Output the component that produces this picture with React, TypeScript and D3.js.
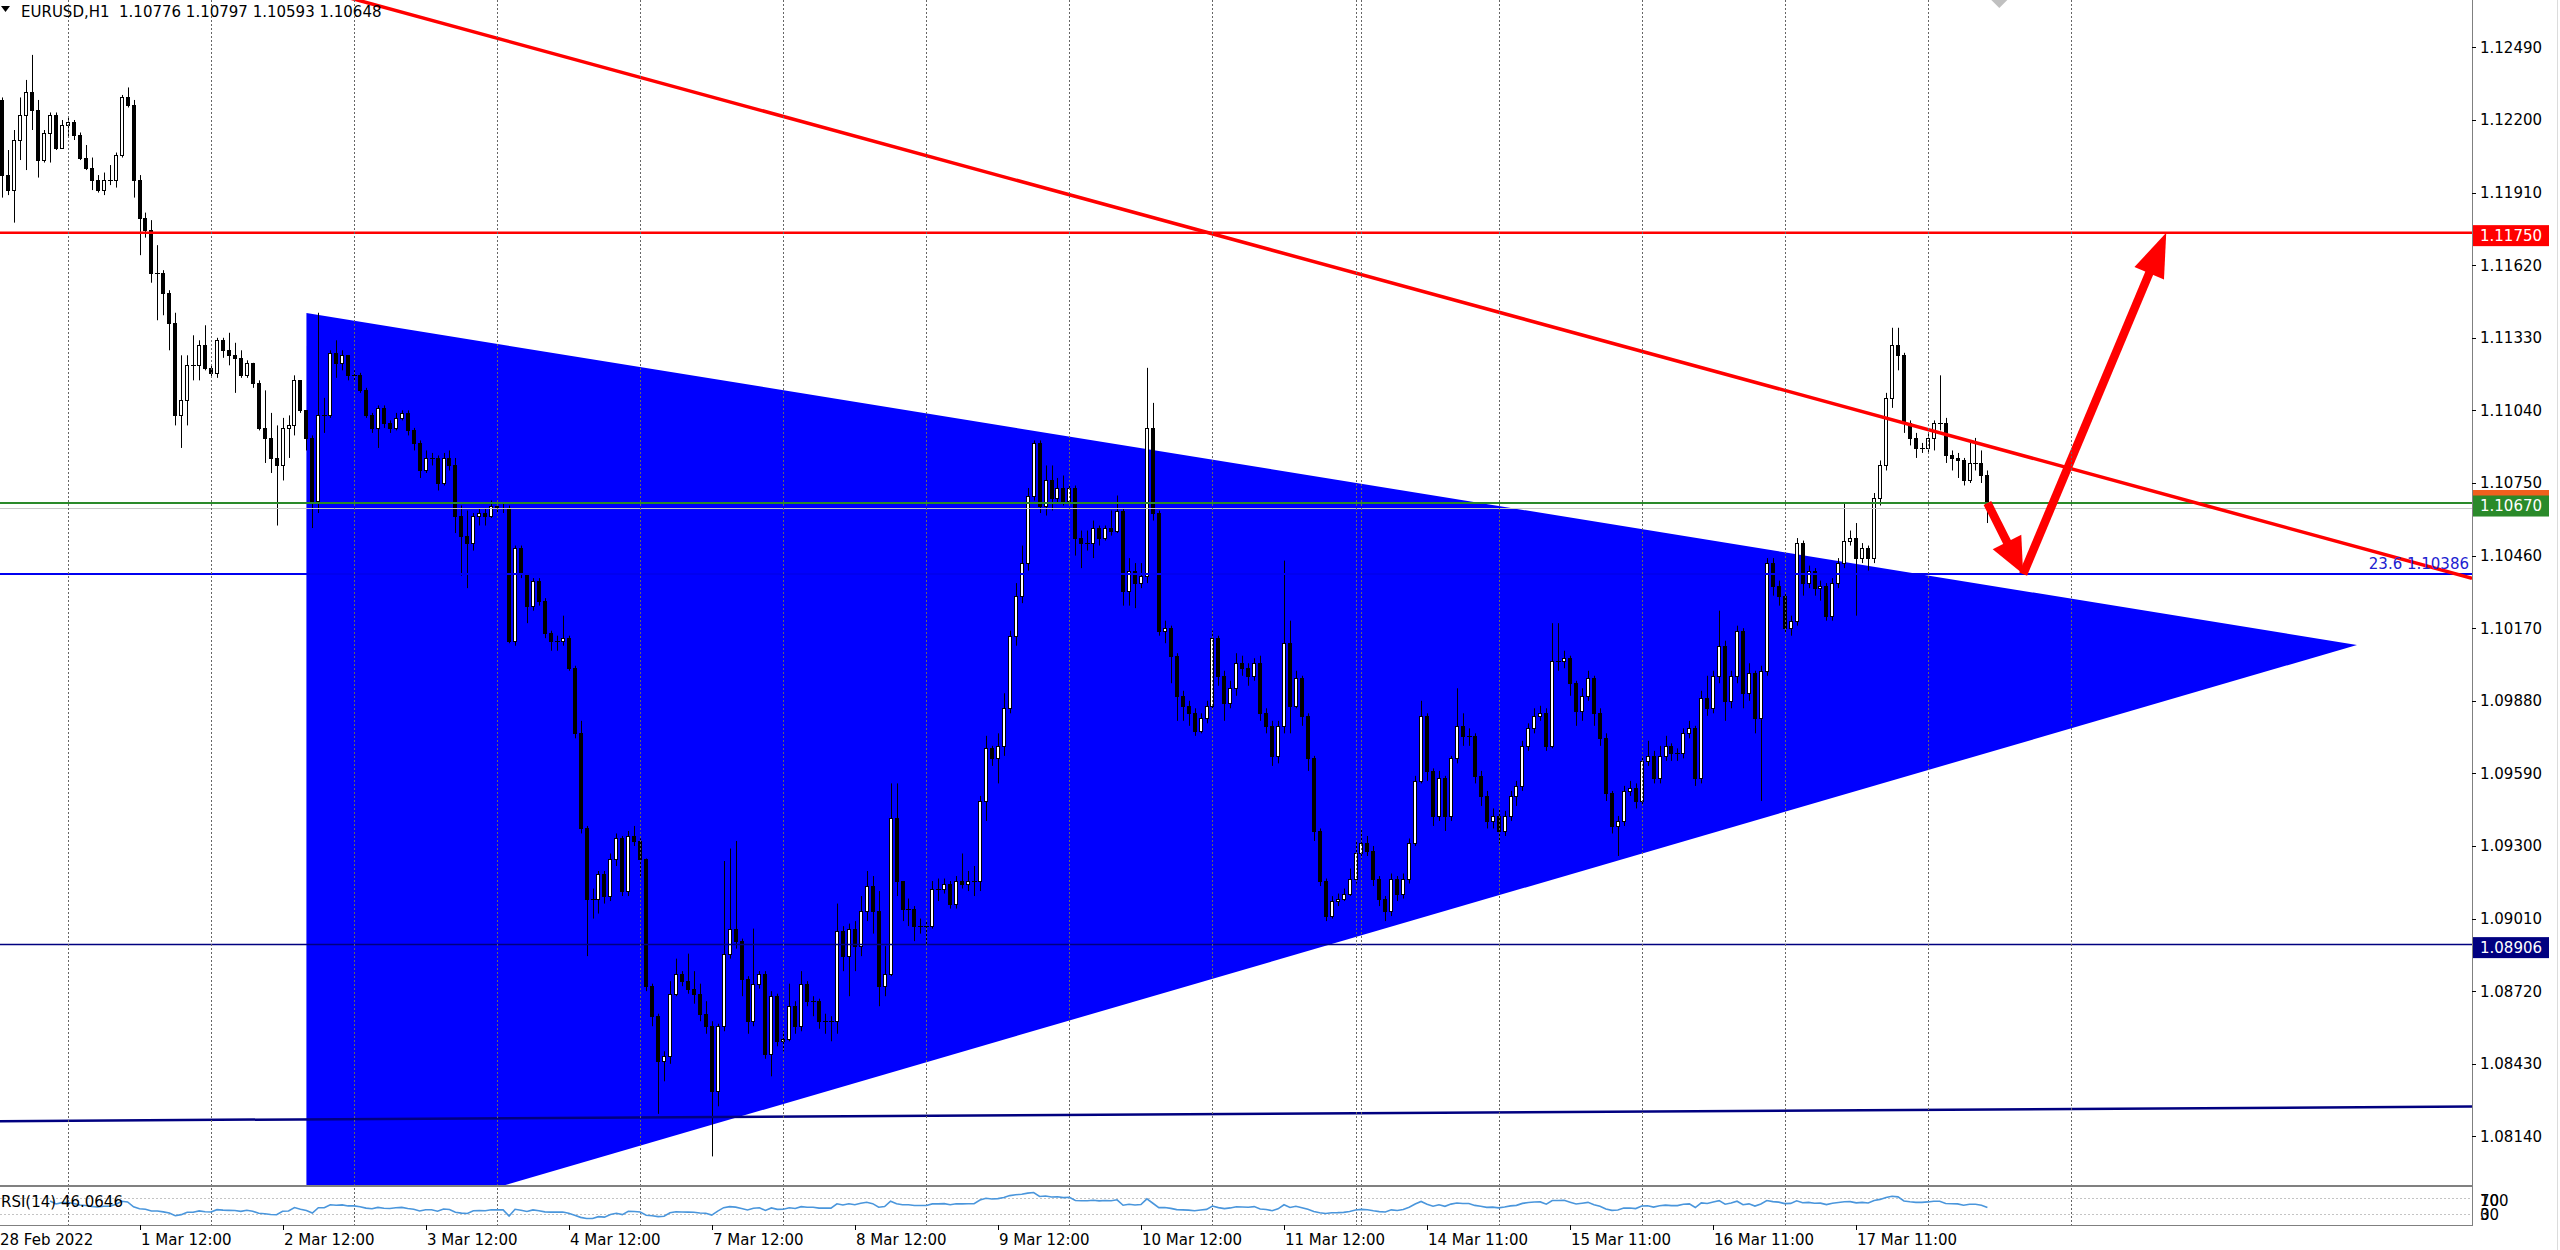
import React, { useEffect, useRef } from 'react'
import * as d3 from 'd3'

// EURUSD H1 bars, prices in 1/10000 (11198 = 1.1198). open = previous close
const firstOpen = 11228
const closes = [
  11198, 11192, 11212, 11222, 11231, 11224, 11204, 11215, 11222, 11209,
  11218, 11219, 11214, 11205, 11201, 11196, 11192, 11196, 11196, 11206,
  11229, 11226, 11196, 11181, 11176, 11159, 11159, 11151, 11139, 11102,
  11108, 11122, 11122, 11130, 11121, 11119, 11132, 11128, 11126, 11125,
  11118, 11123, 11115, 11097, 11093, 11085, 11082, 11097, 11098, 11116,
  11104, 11093, 11068, 11102, 11102, 11127, 11123, 11126, 11118, 11118,
  11112, 11102, 11097, 11105, 11099, 11097, 11101, 11103, 11096, 11091,
  11080, 11085, 11085, 11075, 11085, 11082, 11062, 11054, 11051, 11062,
  11063, 11062, 11066, 11065, 11065, 11012, 11049, 11039, 11026, 11036,
  11028, 11015, 11012, 11012, 11013, 11001, 10975, 10937, 10909, 10909,
  10919, 10910, 10925, 10933, 10912, 10934, 10932, 10925, 10874, 10862,
  10844, 10846, 10871, 10879, 10876, 10873, 10871, 10863, 10858, 10832,
  10858, 10887, 10897, 10892, 10877, 10860, 10875, 10879, 10847, 10870,
  10852, 10853, 10866, 10858, 10875, 10868, 10868, 10860, 10860, 10860,
  10896, 10886, 10897, 10890, 10904, 10914, 10904, 10874, 10879, 10941,
  10916, 10905, 10905, 10898, 10898, 10898, 10913, 10913, 10915, 10907,
  10916, 10915, 10916, 10916, 10948, 10969, 10965, 10970, 10985, 11014,
  11030, 11043, 11070, 11091, 11066, 11076, 11069, 11073, 11068, 11073,
  11053, 11051, 11051, 11057, 11053, 11057, 11056, 11064, 11032, 11040,
  11035, 11038, 11097, 11063, 11016, 11017, 11006, 10990, 10986, 10983,
  10976, 10981, 10986, 11013, 10998, 10987, 10993, 11003, 11001, 10998,
  11003, 10983, 10978, 10966, 10978, 11011, 10986, 10997, 10982, 10965,
  10936, 10916, 10902, 10908, 10909, 10911, 10917, 10927, 10931, 10928,
  10917, 10909, 10904, 10917, 10911, 10917, 10931, 10956, 10982, 10960,
  10942, 10957, 10942, 10965, 10978, 10974, 10974, 10958, 10950, 10940,
  10942, 10936, 10942, 10950, 10954, 10970, 10977, 10982, 10983, 10970,
  11004, 11004, 11005, 10995, 10984, 10990, 10997, 10983, 10973, 10951,
  10938, 10940, 10952, 10953, 10948, 10964, 10966, 10957, 10966, 10970,
  10967, 10967, 10975, 10977, 10957, 10989, 10985, 10998, 11010, 10988,
  10998, 11016, 10991, 10999, 10981, 11000, 11043, 11034, 11030, 11017,
  11020, 11051, 11035, 11040, 11033, 11034, 11022, 11035, 11043, 11052,
  11053, 11045, 11049, 11045, 11069, 11082, 11109, 11130, 11126, 11099,
  11093, 11089, 11089, 11093, 11099, 11099, 11086, 11085, 11084, 11076,
  11083, 11083, 11078, 11065,
]
const highs = [
  11229, 11208, 11216, 11229, 11236, 11246, 11228, 11216, 11223, 11223,
  11220, 11221, 11220, 11215, 11210, 11205, 11198, 11199, 11202, 11207,
  11230, 11233, 11228, 11198, 11183, 11180, 11170, 11160, 11152, 11143,
  11126, 11126, 11134, 11132, 11138, 11122, 11133, 11133, 11135, 11131,
  11128, 11124, 11123, 11116, 11112, 11103, 11098, 11101, 11102, 11118,
  11116, 11104, 11094, 11143, 11109, 11128, 11132, 11128, 11126, 11120,
  11119, 11113, 11103, 11106, 11106, 11100, 11103, 11104, 11104, 11097,
  11092, 11088, 11087, 11086, 11087, 11088, 11085, 11066, 11064, 11063,
  11065, 11065, 11068, 11067, 11067, 11066, 11050, 11050, 11039, 11037,
  11037, 11029, 11016, 11014, 11022, 11014, 11002, 10980, 10938, 10913,
  10920, 10920, 10927, 10935, 10934, 10936, 10938, 10933, 10920, 10875,
  10863, 10848, 10876, 10885, 10880, 10887, 10880, 10875, 10868, 10860,
  10859, 10924, 10929, 10932, 10893, 10878, 10897, 10880, 10880, 10872,
  10871, 10856, 10875, 10868, 10880, 10876, 10870, 10869, 10863, 10862,
  10907, 10898, 10899, 10900, 10910, 10920, 10918, 10912, 10890, 10955,
  10955, 10916, 10909, 10906, 10901, 10900, 10916, 10917, 10917, 10916,
  10918, 10927, 10920, 10922, 10950, 10974, 10970, 10975, 10991, 11016,
  11035, 11050, 11073, 11092, 11092, 11082, 11082, 11077, 11078, 11074,
  11074, 11056, 11056, 11060, 11058, 11058, 11064, 11070, 11065, 11045,
  11043, 11043, 11121, 11107, 11064, 11020, 11018, 11007, 10992, 10988,
  10985, 10983, 10988, 11016, 11014, 11000, 10996, 11007, 11006, 11003,
  11005, 11006, 10985, 10980, 10980, 11044, 11020, 11000, 10998, 10983,
  10966, 10937, 10917, 10910, 10911, 10913, 10921, 10932, 10937, 10934,
  10930, 10918, 10910, 10919, 10918, 10919, 10933, 10958, 10988, 10983,
  10961, 10960, 10958, 10966, 10993, 10983, 10977, 10975, 10960, 10952,
  10945, 10945, 10944, 10952, 10956, 10972, 10979, 10985, 10986, 10985,
  11019, 11019, 11008, 11006, 10996, 10993, 11000, 10998, 10985, 10975,
  10952, 10942, 10954, 10956, 10955, 10966, 10972, 10968, 10970, 10974,
  10971, 10969, 10977, 10980, 10978, 10992, 10998, 11000, 11024, 11012,
  11000, 11018, 11017, 11003, 11000, 11002, 11045, 11045, 11036, 11031,
  11022, 11053, 11052, 11042, 11041, 11036, 11035, 11037, 11045, 11067,
  11056, 11059, 11051, 11050, 11071, 11084, 11111, 11137, 11137, 11127,
  11100, 11095, 11091, 11095, 11100, 11118, 11101, 11088, 11087, 11085,
  11092, 11093, 11088, 11080,
]
const lows = [
  11189, 11190, 11179, 11204, 11200, 11216, 11197, 11203, 11203, 11208,
  11209, 11213, 11212, 11204, 11200, 11192, 11191, 11190, 11194, 11193,
  11205, 11225, 11189, 11166, 11173, 11155, 11140, 11142, 11128, 11098,
  11089, 11098, 11116, 11116, 11120, 11117, 11117, 11125, 11122, 11111,
  11117, 11117, 11113, 11096, 11083, 11079, 11058, 11076, 11085, 11094,
  11103, 11088, 11057, 11063, 11095, 11101, 11117, 11120, 11116, 11116,
  11111, 11101, 11095, 11089, 11097, 11095, 11096, 11100, 11094, 11088,
  11077, 11079, 11082, 11072, 11074, 11080, 11055, 11038, 11033, 11048,
  11058, 11058, 11061, 11063, 11063, 11011, 11010, 11037, 11019, 11024,
  11026, 11013, 11008, 11008, 11010, 11000, 10973, 10935, 10886, 10901,
  10903, 10907, 10908, 10922, 10910, 10910, 10930, 10918, 10872, 10858,
  10823, 10836, 10843, 10870, 10874, 10871, 10867, 10860, 10855, 10806,
  10826, 10856, 10885, 10889, 10870, 10855, 10858, 10873, 10845, 10838,
  10850, 10848, 10852, 10855, 10856, 10866, 10862, 10857, 10855, 10852,
  10855, 10880, 10870, 10880, 10886, 10900, 10895, 10866, 10870, 10878,
  10910, 10900, 10898, 10892, 10895, 10890, 10897, 10908, 10911, 10905,
  10905, 10913, 10912, 10910, 10912, 10940, 10962, 10955, 10966, 10983,
  11010, 11027, 11040, 11068, 11063, 11062, 11064, 11067, 11066, 11067,
  11046, 11041, 11048, 11045, 11050, 11052, 11054, 11055, 11026, 11026,
  11025, 11033, 11035, 11060, 11014, 11011, 10995, 10980, 10980, 10978,
  10974, 10975, 10979, 10985, 10994, 10980, 10985, 10990, 10998, 10994,
  10996, 10980, 10975, 10962, 10963, 10975, 10975, 10985, 10978, 10960,
  10932, 10914, 10900, 10901, 10906, 10908, 10910, 10915, 10925, 10926,
  10914, 10906, 10900, 10902, 10908, 10909, 10915, 10930, 10955, 10956,
  10938, 10940, 10936, 10940, 10963, 10970, 10970, 10955, 10946, 10937,
  10937, 10931, 10934, 10940, 10946, 10952, 10968, 10975, 10980, 10968,
  10969, 11000, 11001, 10990, 10978, 10980, 10988, 10978, 10970, 10948,
  10935, 10926, 10938, 10950, 10945, 10946, 10962, 10955, 10955, 10964,
  10964, 10964, 10965, 10973, 10954, 10955, 10982, 10983, 10995, 10980,
  10985, 10995, 10985, 10988, 10975, 10948, 10998, 11030, 11026, 11015,
  11014, 11018, 11030, 11033, 11030, 11028, 11020, 11020, 11033, 11041,
  11050, 11022, 11043, 11040, 11043, 11066, 11080, 11105, 11120, 11095,
  11090, 11085, 11087, 11087, 11088, 11096, 11083, 11080, 11077, 11074,
  11075, 11080, 11075, 11059,
]

const priceTicks = [
  1.1249, 1.122, 1.1191, 1.1162, 1.1133, 1.1104, 1.1075, 1.1046,
  1.1017, 1.0988, 1.0959, 1.093, 1.0901, 1.0872, 1.0843, 1.0814,
]
const timeLabels = [
  '28 Feb 2022', '1 Mar 12:00', '2 Mar 12:00', '3 Mar 12:00', '4 Mar 12:00',
  '7 Mar 12:00', '8 Mar 12:00', '9 Mar 12:00', '10 Mar 12:00', '11 Mar 12:00',
  '14 Mar 11:00', '15 Mar 11:00', '16 Mar 11:00', '17 Mar 11:00',
]
const timeLabelBars = [0, 23, 47, 71, 95, 119, 143, 167, 191, 215, 239, 263, 287, 311]
const gridBars = [11, 35, 59, 83, 107, 131, 155, 179, 203, 227, 228, 251, 275, 299, 323, 347]

const symbolTitle = 'EURUSD,H1'
const lastBarOHLC = ['1.10776', '1.10797', '1.10593', '1.10648']
const rsiTitle = 'RSI(14) 46.0646'
const rsiLevels = [70, 30]
const rsiScaleTop = ['100', '70']
const rsiScaleBottom = ['30', '0']

// chart objects
const resistance = 1.1175
const support = 1.1067
const bidPrice = 1.10648
const askPrice = 1.10692
const fiboLevel = 1.10386
const fiboText = '23.6 1.10386'
const lowLevel = 1.08906
const triangleBars = [51, 395, 51]
const trianglePrices = [1.11429, 1.10103, 1.07714]
const downTrendBars = [0, 414]
const downTrendPrices = [1.13067, 1.10371]
const floorTrendBars = [0, 414]
const floorTrendPrices = [1.08201, 1.08259]
const arrowBars = [333, 339, 363]
const arrowPrices = [1.1067, 1.10386, 1.1175]
const markBar = 335
const markPrice = 1.12679

const FONT = "'DejaVu Sans', Verdana, sans-serif"

export default function App() {
  const ref = useRef<SVGSVGElement>(null)

  useEffect(() => {
    const W = 2560, H = 1250
    const plotR = 2472, mainB = 1185, rsiT = 1187, rsiB = 1225
    const svg = d3.select(ref.current)
    svg.selectAll('*').remove()

    const x = d3.scaleLinear().domain([0, closes.length - 1]).range([2.4, 1987.4])
    const y = d3.scaleLinear().domain([1.079458, 1.126793]).range([mainB, 0])
    const yr = d3.scaleLinear().domain([0, 100]).range([rsiB, rsiT])

    svg.append('rect').attr('width', W).attr('height', H).attr('fill', '#fff')

    const defs = svg.append('defs')
    defs.append('clipPath').attr('id', 'plotClip')
      .append('rect').attr('width', plotR).attr('height', mainB)
    defs.append('clipPath').attr('id', 'gridClip')
      .append('rect').attr('width', plotR).attr('height', rsiB)
    defs.append('clipPath').attr('id', 'rsiClip')
      .append('rect').attr('y', rsiT).attr('width', plotR).attr('height', rsiB - rsiT)
    const triPts = triangleBars.map((b, i) => [x(b), y(trianglePrices[i])] as [number, number])
    defs.append('clipPath').attr('id', 'triClip')
      .append('polygon').attr('points', triPts.map(p => p.join(',')).join(' '))

    const plot = svg.append('g').attr('clip-path', 'url(#plotClip)')

    // triangle (background object)
    plot.append('polygon')
      .attr('points', triPts.map(p => p.join(',')).join(' '))
      .attr('fill', '#0000ff')

    // vertical grid
    const grid = svg.append('g').attr('clip-path', 'url(#gridClip)')
    grid.selectAll('line.g').data(gridBars).enter().append('line')
      .attr('x1', d => Math.round(x(d)) + 0.5).attr('x2', d => Math.round(x(d)) + 0.5)
      .attr('y1', 0).attr('y2', rsiB)
      .attr('stroke', '#666').attr('stroke-dasharray', '2,2')
    plot.append('g').attr('clip-path', 'url(#triClip)')
      .selectAll('line').data(gridBars).enter().append('line')
      .attr('x1', d => Math.round(x(d)) + 0.5).attr('x2', d => Math.round(x(d)) + 0.5)
      .attr('y1', 0).attr('y2', mainB)
      .attr('stroke', '#d6d6f0').attr('stroke-dasharray', '2,2')

    // RSI level lines
    svg.selectAll('line.lvl').data(rsiLevels).enter().append('line')
      .attr('x1', 0).attr('x2', plotR)
      .attr('y1', d => Math.round(yr(d)) + 0.5).attr('y2', d => Math.round(yr(d)) + 0.5)
      .attr('stroke', '#c4c4c4').attr('stroke-dasharray', '2,2')

    // candles
    const bars = closes.map((c, i) => {
      const o = i === 0 ? firstOpen : closes[i - 1]
      return {
        i, o: o / 1e4, c: c / 1e4,
        h: Math.max(highs[i], o, c) / 1e4,
        l: Math.min(lows[i], o, c) / 1e4,
      }
    })
    const cg = plot.append('g')
    bars.forEach(b => {
      const cx = Math.round(x(b.i))
      cg.append('line')
        .attr('x1', cx + 0.5).attr('x2', cx + 0.5)
        .attr('y1', y(b.h)).attr('y2', y(b.l))
        .attr('stroke', '#000').attr('stroke-width', 1)
      const top = Math.round(y(Math.max(b.o, b.c)))
      const bot = Math.round(y(Math.min(b.o, b.c)))
      if (bot - top < 1) {
        cg.append('line')
          .attr('x1', cx - 2).attr('x2', cx + 3)
          .attr('y1', top + 0.5).attr('y2', top + 0.5)
          .attr('stroke', '#000')
      } else {
        cg.append('rect')
          .attr('x', cx - 1.5).attr('y', top + 0.5)
          .attr('width', 3).attr('height', bot - top)
          .attr('fill', b.c > b.o ? '#fff' : '#000')
          .attr('stroke', '#000').attr('stroke-width', 1)
      }
    })

    // horizontal levels and trend lines (rays extended over the whole plot width)
    const hline = (p: number, color: string, w: number) =>
      plot.append('line').attr('x1', 0).attr('x2', plotR)
        .attr('y1', y(p)).attr('y2', y(p))
        .attr('stroke', color).attr('stroke-width', w)
    const ray = (bs: number[], ps: number[], color: string, w: number) => {
      const x0 = x(bs[0]), y0 = y(ps[0]), x1 = x(bs[1]), y1 = y(ps[1])
      const k = (y1 - y0) / (x1 - x0)
      plot.append('line')
        .attr('x1', 0).attr('y1', y0 - k * x0)
        .attr('x2', plotR).attr('y2', y0 + k * (plotR - x0))
        .attr('stroke', color).attr('stroke-width', w)
    }
    hline(fiboLevel, '#0000f0', 2)
    hline(lowLevel, '#000080', 1.5)
    ray(floorTrendBars, floorTrendPrices, '#000080', 2.5)
    hline(bidPrice, '#c8c8c8', 1)
    hline(support, '#2a8a2a', 2)
    hline(resistance, '#ff0000', 2.5)
    ray(downTrendBars, downTrendPrices, '#ff0000', 3.5)

    // arrows
    const arrow = (b0: number, p0: number, b1: number, p1: number, headLen: number, half: number) => {
      const x0 = x(b0), y0 = y(p0), x1 = x(b1), y1 = y(p1)
      const len = Math.hypot(x1 - x0, y1 - y0)
      const ux = (x1 - x0) / len, uy = (y1 - y0) / len
      const bx = x1 - ux * headLen, by = y1 - uy * headLen
      plot.append('line').attr('x1', x0).attr('y1', y0)
        .attr('x2', bx + ux * 2).attr('y2', by + uy * 2)
        .attr('stroke', '#ff0000').attr('stroke-width', 8.5)
      plot.append('polygon')
        .attr('points', [[x1, y1], [bx - uy * half, by + ux * half], [bx + uy * half, by - ux * half]]
          .map(p => p.join(',')).join(' '))
        .attr('fill', '#ff0000')
    }
    arrow(arrowBars[0], arrowPrices[0], arrowBars[1], arrowPrices[1], 36, 16)
    arrow(arrowBars[1], arrowPrices[1], arrowBars[2], arrowPrices[2], 44, 16)

    // fibo label
    svg.append('text').attr('x', plotR - 3).attr('y', y(fiboLevel) - 5)
      .attr('text-anchor', 'end').attr('font-family', FONT).attr('font-size', 15)
      .attr('fill', '#2020d0').text(fiboText)

    // grey marker cut by the top edge
    const mx = x(markBar), my = y(markPrice)
    plot.append('polygon')
      .attr('points', [[mx - 8, my], [mx, my - 8], [mx + 8, my], [mx, my + 8]].map(p => p.join(',')).join(' '))
      .attr('fill', '#c0c0c0')

    // frame
    svg.append('line').attr('x1', 0).attr('x2', plotR).attr('y1', mainB + 1).attr('y2', mainB + 1)
      .attr('stroke', '#808080').attr('stroke-width', 2)
    svg.append('line').attr('x1', 0).attr('x2', plotR).attr('y1', rsiB + 0.5).attr('y2', rsiB + 0.5)
      .attr('stroke', '#808080')
    svg.append('line').attr('x1', plotR + 0.5).attr('x2', plotR + 0.5).attr('y1', 0).attr('y2', rsiB + 1)
      .attr('stroke', '#808080')
    svg.append('line').attr('x1', W - 2.5).attr('x2', W - 2.5).attr('y1', 0).attr('y2', H)
      .attr('stroke', '#dcdcdc')

    // price axis
    const ax = svg.append('g').attr('font-family', FONT).attr('font-size', 15)
    priceTicks.forEach(p => {
      ax.append('line').attr('x1', plotR).attr('x2', plotR + 4)
        .attr('y1', Math.round(y(p)) + 0.5).attr('y2', Math.round(y(p)) + 0.5).attr('stroke', '#000')
      ax.append('text').attr('x', plotR + 8).attr('y', y(p)).attr('dy', '0.36em')
        .attr('fill', '#000').text(p.toFixed(5))
    })
    const tag = (p: number, bg: string, withText: boolean) => {
      const ly = y(p)
      ax.append('rect').attr('x', plotR + 1).attr('y', ly - 7.5).attr('width', 76).attr('height', 21)
        .attr('fill', bg)
      if (withText) {
        ax.append('text').attr('x', plotR + 8).attr('y', ly + 3).attr('dy', '0.36em')
          .attr('fill', '#fff').text(p.toFixed(5))
      }
    }
    tag(askPrice, '#f0601e', false)
    tag(support, '#2a8a2a', true)
    tag(resistance, '#ff0000', true)
    tag(lowLevel, '#000080', true)

    // RSI
    const rsi: (number | null)[] = [null]
    let ag = 0, al = 0
    const n = 14
    for (let i = 1; i < closes.length; i++) {
      const d = (closes[i] - closes[i - 1]) / 1e4
      const g = Math.max(d, 0), l = Math.max(-d, 0)
      if (i <= n) { ag = (ag * (i - 1) + g) / i; al = (al * (i - 1) + l) / i }
      else { ag = (ag * (n - 1) + g) / n; al = (al * (n - 1) + l) / n }
      rsi.push(i < 8 ? null : al === 0 ? 100 : 100 - 100 / (1 + ag / al))
    }
    const rsiLine = d3.line<number | null>()
      .defined(d => d !== null)
      .x((_, i) => x(i))
      .y(d => yr(d as number))
    svg.append('path').attr('clip-path', 'url(#rsiClip)')
      .attr('d', rsiLine(rsi))
      .attr('fill', 'none').attr('stroke', '#4a96dc').attr('stroke-width', 1.6)
    svg.append('text').attr('x', 1).attr('y', 1207)
      .attr('font-family', FONT).attr('font-size', 15).attr('fill', '#000').text(rsiTitle)
    // the terminal prints the four RSI scale values on top of each other in the thin pane
    const rsiAx = svg.append('g').attr('font-family', FONT).attr('font-size', 15).attr('fill', '#000')
    rsiScaleTop.forEach(t => rsiAx.append('text').attr('x', plotR + 8).attr('y', 1206).text(t))
    rsiScaleBottom.forEach(t => rsiAx.append('text').attr('x', plotR + 8).attr('y', 1220).text(t))

    // time axis
    const tx = svg.append('g').attr('font-family', FONT).attr('font-size', 15).attr('fill', '#000')
    timeLabels.forEach((t, j) => {
      const bx = j === 0 ? 0 : Math.round(x(timeLabelBars[j]))
      if (j > 0) {
        tx.append('line').attr('x1', bx + 0.5).attr('x2', bx + 0.5)
          .attr('y1', rsiB).attr('y2', rsiB + 5).attr('stroke', '#000')
      }
      tx.append('text').attr('x', bx + (j === 0 ? 0 : 1)).attr('y', 1245).text(t)
    })

    // header
    svg.append('polygon').attr('points', '1,6 10,6 5.5,12').attr('fill', '#000')
    svg.append('text').attr('x', 21).attr('y', 17)
      .attr('font-family', FONT).attr('font-size', 15).attr('fill', '#000')
      .style('white-space', 'pre')
      .text(symbolTitle + '  ' + lastBarOHLC.join(' '))
  }, [])

  return (
    <div style={{ position: 'absolute', left: 0, top: 0 }}>
      <svg ref={ref} width={2560} height={1250} style={{ display: 'block' }} />
    </div>
  )
}
